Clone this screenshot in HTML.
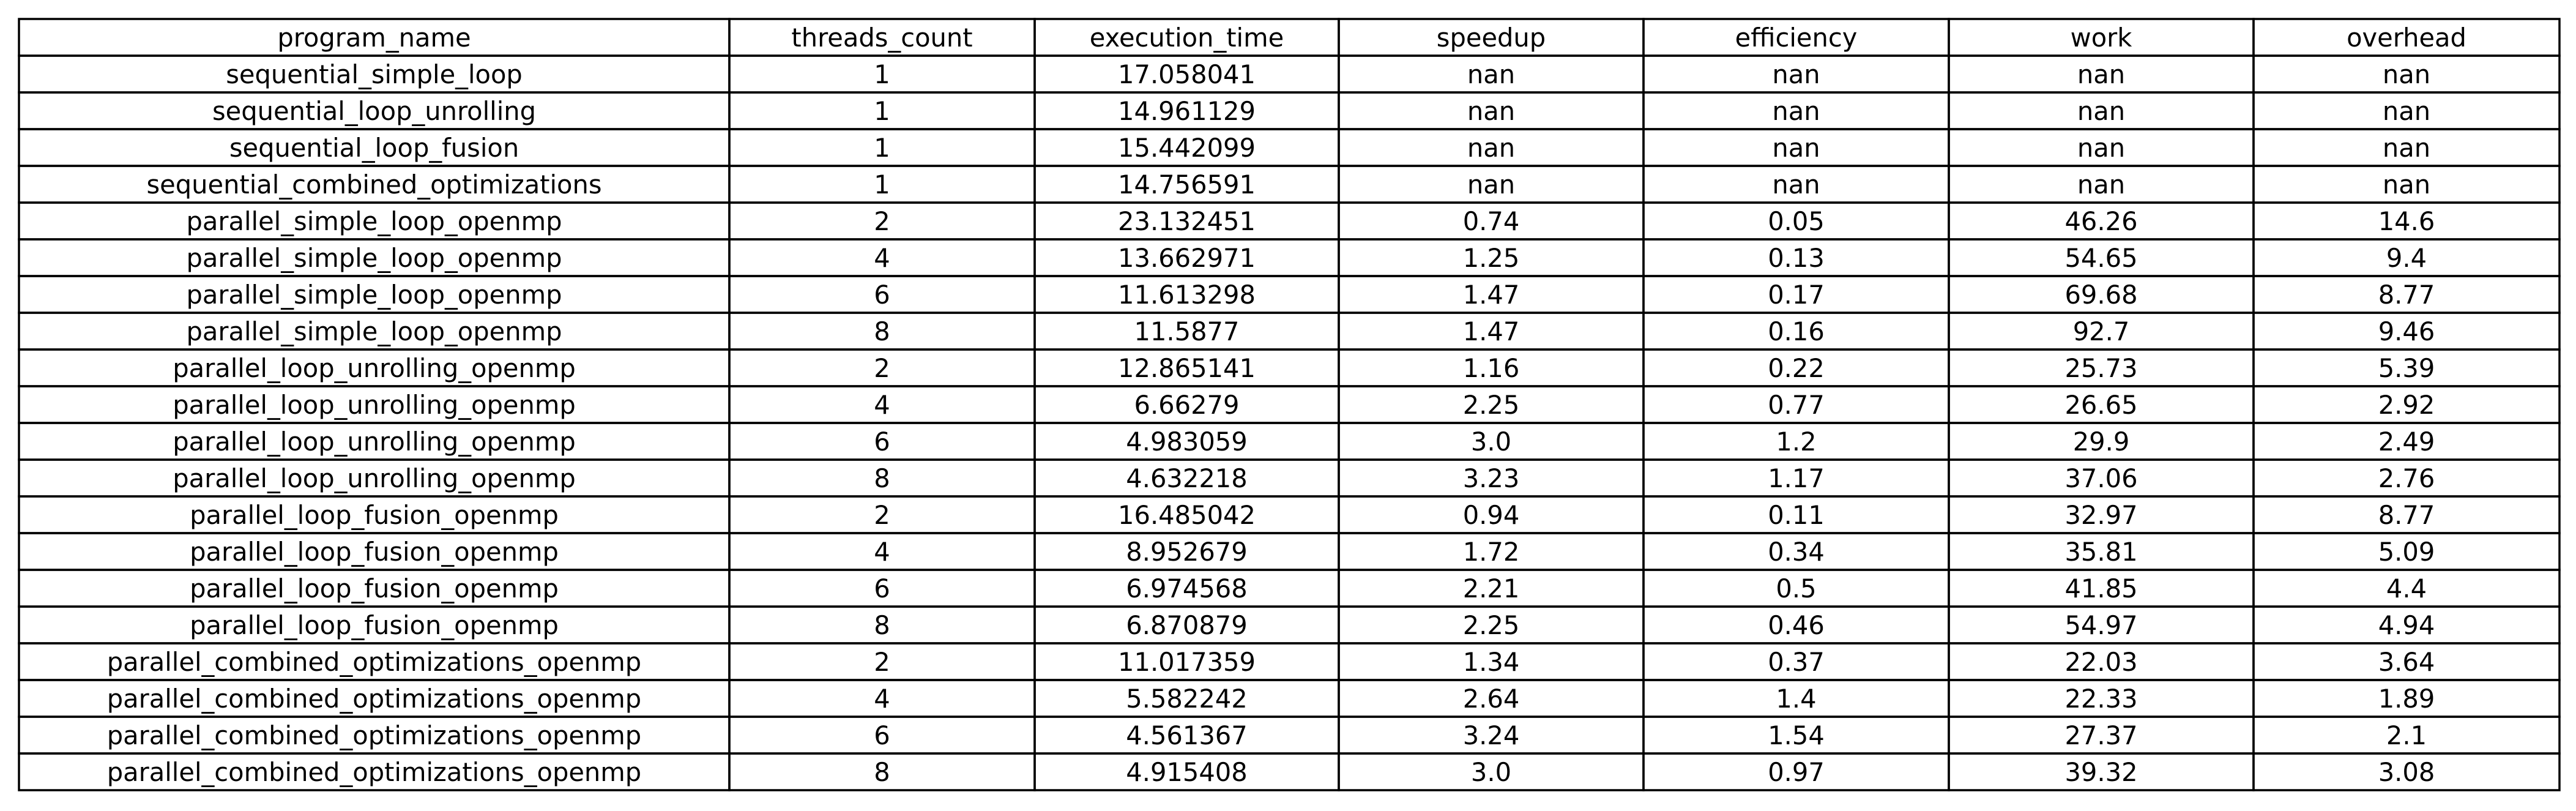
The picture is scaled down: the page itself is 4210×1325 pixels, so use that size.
<!DOCTYPE html>
<html><head><meta charset="utf-8"><style>
html,body{margin:0;padding:0;background:#fff;}
svg{display:block;}
text{font-family:"DejaVu Sans","Liberation Sans",sans-serif;font-size:41.6px;fill:#000;}
</style></head><body>
<svg id="tbl" width="4210" height="1325" xmlns="http://www.w3.org/2000/svg"></svg>
<script>
const headers = ["program_name","threads_count","execution_time","speedup","efficiency","work","overhead"];
const programNames = ["sequential_simple_loop","sequential_loop_unrolling","sequential_loop_fusion","sequential_combined_optimizations",
"parallel_simple_loop_openmp","parallel_simple_loop_openmp","parallel_simple_loop_openmp","parallel_simple_loop_openmp",
"parallel_loop_unrolling_openmp","parallel_loop_unrolling_openmp","parallel_loop_unrolling_openmp","parallel_loop_unrolling_openmp",
"parallel_loop_fusion_openmp","parallel_loop_fusion_openmp","parallel_loop_fusion_openmp","parallel_loop_fusion_openmp",
"parallel_combined_optimizations_openmp","parallel_combined_optimizations_openmp","parallel_combined_optimizations_openmp","parallel_combined_optimizations_openmp"];
const threadsCount = ["1","1","1","1","2","4","6","8","2","4","6","8","2","4","6","8","2","4","6","8"];
const executionTime = ["17.058041","14.961129","15.442099","14.756591","23.132451","13.662971","11.613298","11.5877","12.865141","6.66279","4.983059","4.632218","16.485042","8.952679","6.974568","6.870879","11.017359","5.582242","4.561367","4.915408"];
const speedup = ["nan","nan","nan","nan","0.74","1.25","1.47","1.47","1.16","2.25","3.0","3.23","0.94","1.72","2.21","2.25","1.34","2.64","3.24","3.0"];
const efficiency = ["nan","nan","nan","nan","0.05","0.13","0.17","0.16","0.22","0.77","1.2","1.17","0.11","0.34","0.5","0.46","0.37","1.4","1.54","0.97"];
const work = ["nan","nan","nan","nan","46.26","54.65","69.68","92.7","25.73","26.65","29.9","37.06","32.97","35.81","41.85","54.97","22.03","22.33","27.37","39.32"];
const overhead = ["nan","nan","nan","nan","14.6","9.4","8.77","9.46","5.39","2.92","2.49","2.76","8.77","5.09","4.4","4.94","3.64","1.89","2.1","3.08"];

const svgEl = document.getElementById('tbl');
const NS = "http://www.w3.org/2000/svg";
const colX = [31,1192,1691,2188,2686,3185,3683,4183];
const tableTop = 31, tableBottom = 1291;
const columns = [programNames, threadsCount, executionTime, speedup, efficiency, work, overhead];
const nRows = programNames.length + 1;
const rh = (tableBottom - tableTop) / nRows;

for (let r = 0; r < nRows; r++) {
  for (let c = 0; c < 7; c++) {
    const rect = document.createElementNS(NS,'rect');
    rect.setAttribute('x', colX[c]); rect.setAttribute('y', tableTop + r*rh);
    rect.setAttribute('width', colX[c+1]-colX[c]); rect.setAttribute('height', rh);
    rect.setAttribute('fill','none'); rect.setAttribute('stroke','#000'); rect.setAttribute('stroke-width','3.5');
    
    
    svgEl.appendChild(rect);
    const t = document.createElementNS(NS,'text');
    t.setAttribute('x', (colX[c]+colX[c+1])/2);
    t.setAttribute('y', tableTop + r*rh + rh/2 + 15);
    t.setAttribute('text-anchor','middle');
    t.textContent = r === 0 ? headers[c] : columns[c][r-1];
    
    
    svgEl.appendChild(t);
  }
}
</script>
</body></html>
